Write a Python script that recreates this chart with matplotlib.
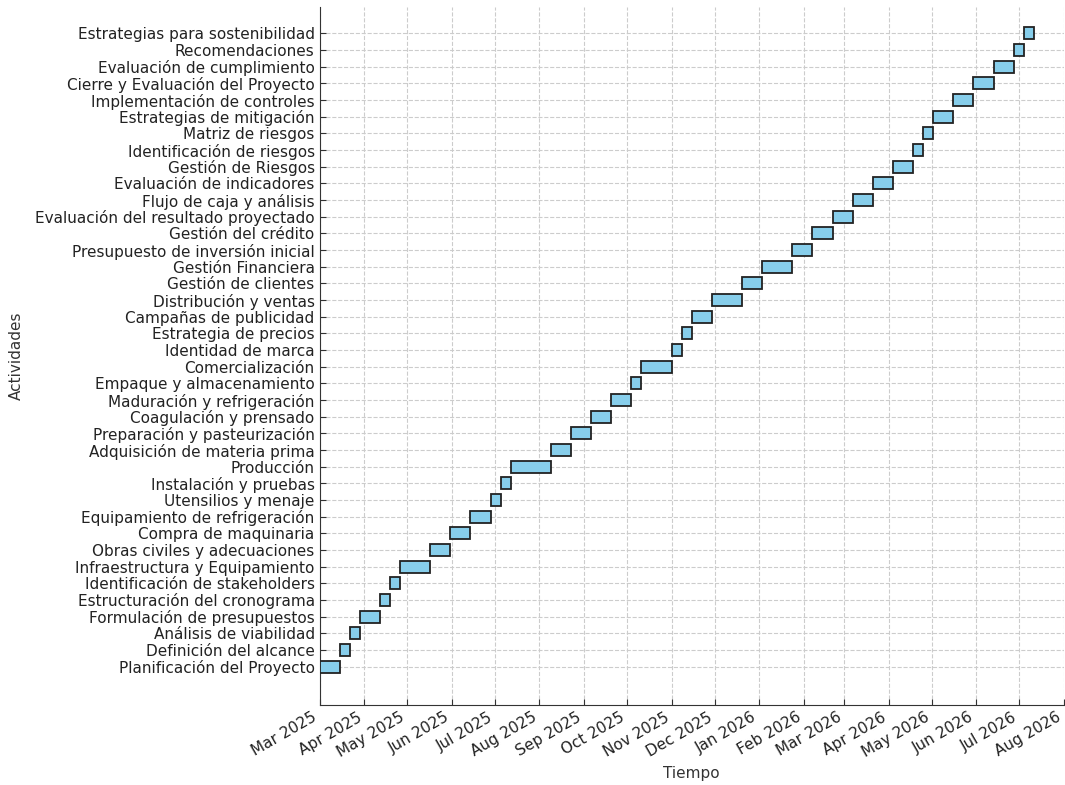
import datetime as dt
import matplotlib
matplotlib.use("Agg")
import matplotlib.pyplot as plt
import matplotlib.dates as mdates

OUTPUT_FIG = "out.png"

# activities, bottom to top
activities = [
    "Planificación del Proyecto",
    "Definición del alcance",
    "Análisis de viabilidad",
    "Formulación de presupuestos",
    "Estructuración del cronograma",
    "Identificación de stakeholders",
    "Infraestructura y Equipamiento",
    "Obras civiles y adecuaciones",
    "Compra de maquinaria",
    "Equipamiento de refrigeración",
    "Utensilios y menaje",
    "Instalación y pruebas",
    "Producción",
    "Adquisición de materia prima",
    "Preparación y pasteurización",
    "Coagulación y prensado",
    "Maduración y refrigeración",
    "Empaque y almacenamiento",
    "Comercialización",
    "Identidad de marca",
    "Estrategia de precios",
    "Campañas de publicidad",
    "Distribución y ventas",
    "Gestión de clientes",
    "Gestión Financiera",
    "Presupuesto de inversión inicial",
    "Gestión del crédito",
    "Evaluación del resultado proyectado",
    "Flujo de caja y análisis",
    "Evaluación de indicadores",
    "Gestión de Riesgos",
    "Identificación de riesgos",
    "Matriz de riesgos",
    "Estrategias de mitigación",
    "Implementación de controles",
    "Cierre y Evaluación del Proyecto",
    "Evaluación de cumplimiento",
    "Recomendaciones",
    "Estrategias para sostenibilidad",
]

start_dates = [
    "2025-03-01", "2025-03-15", "2025-03-22", "2025-03-29", "2025-04-12",
    "2025-04-19", "2025-04-26", "2025-05-17", "2025-05-31", "2025-06-14",
    "2025-06-28", "2025-07-05", "2025-07-12", "2025-08-09", "2025-08-23",
    "2025-09-06", "2025-09-20", "2025-10-04", "2025-10-11", "2025-11-01",
    "2025-11-08", "2025-11-15", "2025-11-29", "2025-12-20", "2026-01-03",
    "2026-01-24", "2026-02-07", "2026-02-21", "2026-03-07", "2026-03-21",
    "2026-04-04", "2026-04-18", "2026-04-25", "2026-05-02", "2026-05-16",
    "2026-05-30", "2026-06-13", "2026-06-27", "2026-07-04",
]

# duration in days
durations = [
    14, 7, 7, 14, 7,
    7, 21, 14, 14, 14,
    7, 7, 28, 14, 14,
    14, 14, 7, 21, 7,
    7, 14, 21, 14, 21,
    14, 14, 14, 14, 14,
    14, 7, 7, 14, 14,
    14, 14, 7, 7,
]

plt.rcParams["font.size"] = 11


def plot_gantt():
    fig = plt.figure(figsize=(10.65, 7.85), dpi=100)
    ax = fig.add_axes([0.300, 0.102, 0.699, 0.8885])

    starts = [mdates.date2num(dt.datetime.strptime(s, "%Y-%m-%d")) for s in start_dates]
    ax.barh(range(len(activities)), durations, left=starts, height=0.72,
            color="skyblue", edgecolor="#222222", linewidth=1.3, zorder=3)

    ax.set_yticks(range(len(activities)))
    ax.set_yticklabels(activities, color="#222222")
    ax.set_ylim(-2.3, 39.56)

    ax.set_xlim(mdates.date2num(dt.datetime(2025, 3, 1)),
                mdates.date2num(dt.datetime(2026, 8, 1)))
    ax.xaxis.set_major_locator(mdates.MonthLocator())
    ax.xaxis.set_major_formatter(mdates.DateFormatter("%b %Y"))
    plt.setp(ax.get_xticklabels(), rotation=30, ha="right", color="#222222")

    ax.tick_params(direction="in", length=4, color="#333333")
    ax.grid(True, linestyle="--", color="#cccccc", linewidth=0.8, zorder=0)
    ax.set_axisbelow(True)

    ax.spines["top"].set_visible(False)
    ax.spines["right"].set_visible(False)
    ax.spines["left"].set_color("#333333")
    ax.spines["bottom"].set_color("#333333")

    ax.set_xlabel("Tiempo", color="#333333")
    ax.set_ylabel("Actividades", color="#333333")
    ax.yaxis.set_label_coords(-0.397, 0.5)

    fig.savefig(OUTPUT_FIG)


plot_gantt()
